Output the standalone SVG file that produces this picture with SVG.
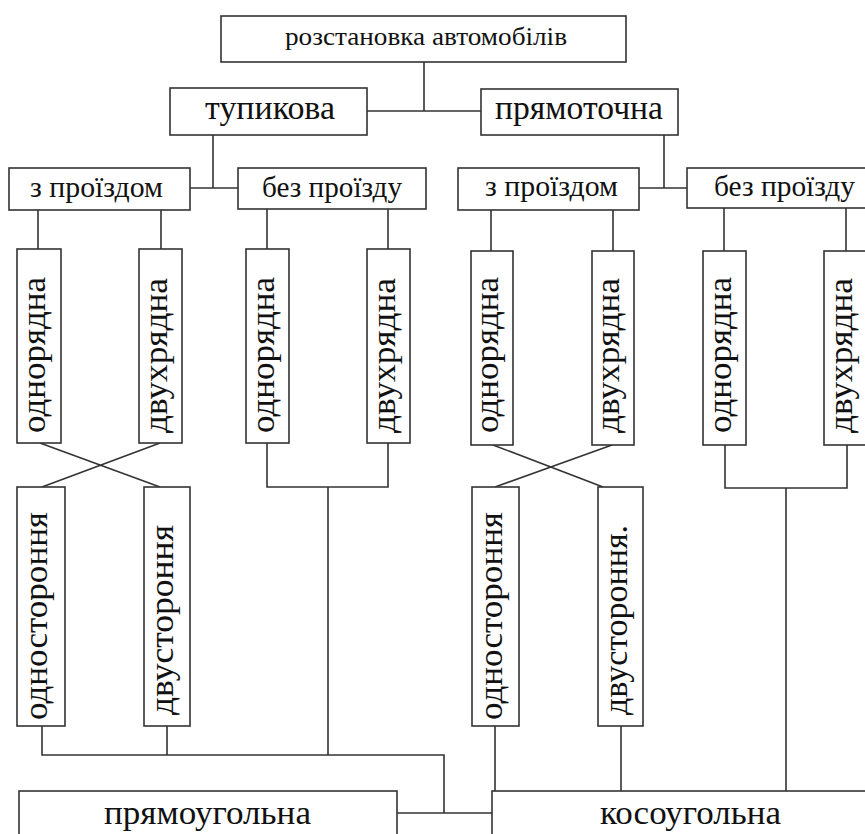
<svg xmlns="http://www.w3.org/2000/svg" width="865" height="834" viewBox="0 0 865 834">
<style>
.b{fill:#fff;stroke:#333;stroke-width:1.6}
.c{fill:none;stroke:#333;stroke-width:1.6}
.t{font-family:"Liberation Serif","Times New Roman",serif;fill:#111;lengthAdjust:spacingAndGlyphs}
</style>
<rect width="865" height="834" fill="#fff"/>
<g id="connectors">
<path class="c" d="M424,62V111M367,111H481"/>
<path class="c" d="M213,135V188M190,188H238"/>
<path class="c" d="M664,135V188M639,188H687"/>
<path class="c" d="M38,210V249M161,210V249M267,209V249M388,209V249"/>
<path class="c" d="M491,210V251M613,210V251M724,208V251M846,208V251"/>
<path class="c" d="M40,443L160,487M160,443L42,487"/>
<path class="c" d="M493,445L603,487M612,445L495,487"/>
<path class="c" d="M267,443V487H388V443M328,487V755"/>
<path class="c" d="M725,445V488H847V445M786,488V791"/>
<path class="c" d="M42,726V755H444V813M167,726V755M397,813H492"/>
<path class="c" d="M495,726V791M621,726V791"/>
</g>
<g id="root"><rect class="b" x="221" y="16" width="405" height="46"/><text class="t" x="285" y="45" font-size="26" textLength="282" lengthAdjust="spacingAndGlyphs">розстановка автомобілів</text></g>
<g id="tupykova"><rect class="b" x="170" y="88" width="197" height="47"/><text class="t" x="205" y="119" font-size="34" textLength="130" lengthAdjust="spacingAndGlyphs">тупикова</text></g>
<g id="priamotochna"><rect class="b" x="481" y="89" width="197" height="46"/><text class="t" x="495" y="119" font-size="34" textLength="168" lengthAdjust="spacingAndGlyphs">прямоточна</text></g>
<g id="z-proizdom-l"><rect class="b" x="9" y="168" width="181" height="42"/><text class="t" x="30" y="197" font-size="29" textLength="133" lengthAdjust="spacingAndGlyphs">з проїздом</text></g>
<g id="bez-proizdu-l"><rect class="b" x="238" y="168" width="188" height="41"/><text class="t" x="262" y="197" font-size="29" textLength="140" lengthAdjust="spacingAndGlyphs">без проїзду</text></g>
<g id="z-proizdom-r"><rect class="b" x="458" y="168" width="181" height="42"/><text class="t" x="485" y="196" font-size="29" textLength="133" lengthAdjust="spacingAndGlyphs">з проїздом</text></g>
<g id="bez-proizdu-r"><rect class="b" x="687" y="168" width="188" height="40"/><text class="t" x="714" y="196" font-size="29" textLength="141" lengthAdjust="spacingAndGlyphs">без проїзду</text></g>
<g id="odn-l1"><rect class="b" x="17" y="249" width="44" height="194"/><text class="t" transform="translate(45,433) rotate(-90)" font-size="34" textLength="156" lengthAdjust="spacingAndGlyphs">однорядна</text></g>
<g id="dvu-l1"><rect class="b" x="139" y="249" width="43" height="194"/><text class="t" transform="translate(166.5,433) rotate(-90)" font-size="34" textLength="155" lengthAdjust="spacingAndGlyphs">двухрядна</text></g>
<g id="odn-l2"><rect class="b" x="246" y="249" width="43" height="194"/><text class="t" transform="translate(273.5,433) rotate(-90)" font-size="34" textLength="156" lengthAdjust="spacingAndGlyphs">однорядна</text></g>
<g id="dvu-l2"><rect class="b" x="367" y="249" width="43" height="194"/><text class="t" transform="translate(394.5,433) rotate(-90)" font-size="34" textLength="155" lengthAdjust="spacingAndGlyphs">двухрядна</text></g>
<g id="odn-r1"><rect class="b" x="471" y="251" width="42" height="194"/><text class="t" transform="translate(498,433) rotate(-90)" font-size="34" textLength="156" lengthAdjust="spacingAndGlyphs">однорядна</text></g>
<g id="dvu-r1"><rect class="b" x="592" y="251" width="42" height="194"/><text class="t" transform="translate(619,433) rotate(-90)" font-size="34" textLength="155" lengthAdjust="spacingAndGlyphs">двухрядна</text></g>
<g id="odn-r2"><rect class="b" x="703" y="251" width="43" height="194"/><text class="t" transform="translate(730.5,433) rotate(-90)" font-size="34" textLength="156" lengthAdjust="spacingAndGlyphs">однорядна</text></g>
<g id="dvu-r2"><rect class="b" x="824" y="251" width="43" height="194"/><text class="t" transform="translate(851.5,433) rotate(-90)" font-size="34" textLength="155" lengthAdjust="spacingAndGlyphs">двухрядна</text></g>
<g id="odnost-l"><rect class="b" x="17" y="487" width="48" height="239"/><text class="t" transform="translate(47,720) rotate(-90)" font-size="34" textLength="208" lengthAdjust="spacingAndGlyphs">одностороння</text></g>
<g id="dvust-l"><rect class="b" x="144" y="487" width="46" height="239"/><text class="t" transform="translate(173,715) rotate(-90)" font-size="34" textLength="190" lengthAdjust="spacingAndGlyphs">двустороння</text></g>
<g id="odnost-r"><rect class="b" x="472" y="487" width="47" height="239"/><text class="t" transform="translate(501.5,720) rotate(-90)" font-size="34" textLength="208" lengthAdjust="spacingAndGlyphs">одностороння</text></g>
<g id="dvust-r"><rect class="b" x="598" y="487" width="45" height="239"/><text class="t" transform="translate(626.5,715) rotate(-90)" font-size="34" textLength="190" lengthAdjust="spacingAndGlyphs">двустороння.</text></g>
<g id="priamokutna"><rect class="b" x="19" y="791" width="378" height="47"/><text class="t" x="104" y="824" font-size="34" textLength="207" lengthAdjust="spacingAndGlyphs">прямоугольна</text></g>
<g id="kosokutna"><rect class="b" x="492" y="791" width="383" height="47"/><text class="t" x="600" y="824" font-size="34" textLength="181" lengthAdjust="spacingAndGlyphs">косоугольна</text></g>
</svg>
